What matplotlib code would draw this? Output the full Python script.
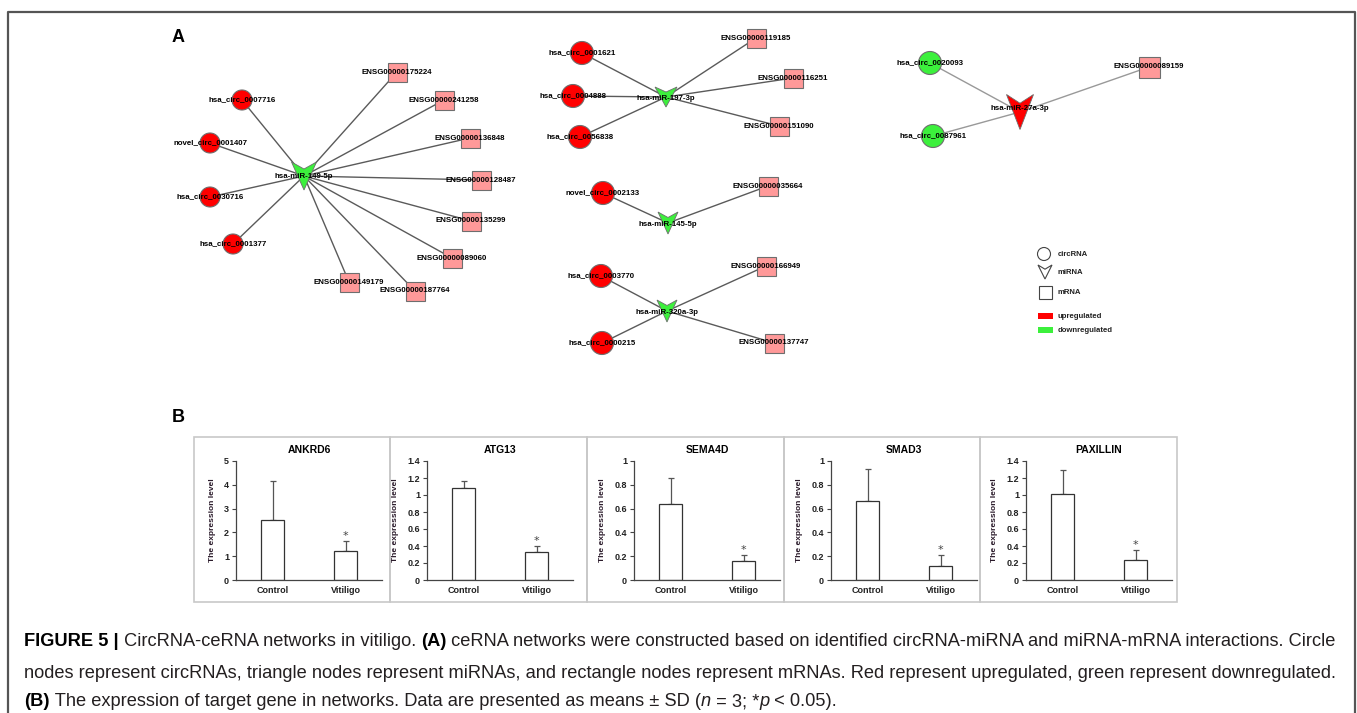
import matplotlib
matplotlib.use("Agg")
import matplotlib.pyplot as plt
from matplotlib.patches import Circle, Rectangle, Polygon
from matplotlib import font_manager

W, H = 1357, 713

# ---------------- A: networks (node layout, pixels) ----------------
mirna_names = ["hsa-miR-149-5p", "hsa-miR-197-3p", "hsa-miR-145-5p", "hsa-miR-320a-3p", "hsa-miR-27a-3p"]
mirna_xy = [(304, 176), (666, 97), (668, 223), (667, 311), (1020, 112)]
mirna_up = [False, False, False, False, True]

circ_names = ["hsa_circ_0007716", "novel_circ_0001407", "hsa_circ_0030716", "hsa_circ_0001377",
              "hsa_circ_0001621", "hsa_circ_0004888", "hsa_circ_0056838",
              "novel_circ_0002133",
              "hsa_circ_0003770", "hsa_circ_0000215",
              "hsa_circ_0020093", "hsa_circ_0087961"]
circ_xy = [(242, 100), (210, 143), (210, 197), (233, 244),
           (582, 53), (573, 96), (580, 137),
           (603, 193),
           (601, 276), (602, 343),
           (930, 63), (933, 136)]
circ_hub = [0, 0, 0, 0, 1, 1, 1, 2, 3, 3, 4, 4]
circ_up = [True] * 10 + [False, False]

mrna_names = ["ENSG00000175224", "ENSG00000241258", "ENSG00000136848", "ENSG00000128487",
              "ENSG00000135299", "ENSG00000089060", "ENSG00000187764", "ENSG00000149179",
              "ENSG00000119185", "ENSG00000116251", "ENSG00000151090",
              "ENSG00000035664",
              "ENSG00000166949", "ENSG00000137747",
              "ENSG00000089159"]
mrna_xy = [(397, 72), (444, 100), (470, 138), (481, 180), (471, 221), (452, 258), (415, 291), (349, 282),
           (756, 38), (793, 78), (779, 126),
           (768, 186),
           (766, 266), (774, 343),
           (1149, 67)]
mrna_hub = [0] * 8 + [1, 1, 1, 2, 3, 3, 4]

# ---------------- B: expression bars ----------------
genes = ["ANKRD6", "ATG13", "SEMA4D", "SMAD3", "PAXILLIN"]
groups = ["Control", "Vitiligo"]
control_mean = [2.53, 1.08, 0.64, 0.66, 1.01]
control_sd = [1.64, 0.08, 0.22, 0.27, 0.28]
vitiligo_mean = [1.20, 0.33, 0.16, 0.12, 0.24]
vitiligo_sd = [0.42, 0.07, 0.05, 0.09, 0.11]
y_max = [5, 1.4, 1, 1, 1.4]
y_step = [1, 0.2, 0.2, 0.2, 0.2]

RED = "#ff0000"
GREEN = "#3cf03c"
PINK = "#ff9999"
NODE_EDGE = "#6e6e6e"

avail = {f.name for f in font_manager.fontManager.ttflist}
SANS = ["Liberation Sans", "DejaVu Sans"]
NARROW = (["Liberation Sans Narrow"] if "Liberation Sans Narrow" in avail else []) + SANS

fig = plt.figure(figsize=(W / 100, H / 100), dpi=100)
bg = fig.add_axes([0, 0, 1, 1])
bg.set_xlim(0, W)
bg.set_ylim(H, 0)
bg.axis("off")

# outer frame
bg.plot([8, 8, 1355, 1355], [H + 5, 12, 12, H + 5], color="#555555", lw=1.6, zorder=0)

bg.text(178, 38, "A", fontsize=13, fontweight="bold", family=SANS, ha="center", va="center")
bg.text(178, 418, "B", fontsize=13, fontweight="bold", family=SANS, ha="center", va="center")

lab_kw = dict(fontsize=5.7, fontweight="bold", family=SANS, ha="center", va="center", zorder=5)

# edges
for names, xys, hubs in [(circ_names, circ_xy, circ_hub), (mrna_names, mrna_xy, mrna_hub)]:
    for xy, h in zip(xys, hubs):
        hx, hy = mirna_xy[h]
        col = "#999999" if h == 4 else "#5a5a5a"
        bg.plot([xy[0], hx], [xy[1], hy], color=col, lw=1.0, zorder=1)

# circRNA nodes
for name, xy, h, up in zip(circ_names, circ_xy, circ_hub, circ_up):
    r = 10 if h == 0 else 11.5
    bg.add_patch(Circle(xy, r, facecolor=RED if up else GREEN, edgecolor=NODE_EDGE, lw=0.8, zorder=2))
    bg.text(xy[0], xy[1], name, **lab_kw)

# mRNA nodes
for name, xy, h in zip(mrna_names, mrna_xy, mrna_hub):
    s = 21 if h == 4 else 19
    bg.add_patch(Rectangle((xy[0] - s / 2, xy[1] - s / 2), s, s, facecolor=PINK,
                           edgecolor=NODE_EDGE, lw=0.8, zorder=2))
    bg.text(xy[0], xy[1], name, **lab_kw)

# miRNA nodes (V shaped)
tri_size = [(25, 28), (22, 20), (20, 22), (20, 22), (27, 35)]
for name, (x, y), up, (w, h) in zip(mirna_names, mirna_xy, mirna_up, tri_size):
    pts = [(x - w / 2, y - h / 2), (x, y - h / 2 + h * 0.25), (x + w / 2, y - h / 2), (x, y + h / 2)]
    bg.add_patch(Polygon(pts, closed=True, facecolor=RED if up else GREEN,
                         edgecolor=NODE_EDGE, lw=0.6, zorder=3))
    bg.text(x, y + (-4 if up else 1), name, **lab_kw)

# legend
leg_kw = dict(fontsize=5.6, fontweight="bold", family=SANS, ha="left", va="center", color="#222222")
bg.add_patch(Circle((1044, 254), 6.5, facecolor="white", edgecolor="#444444", lw=0.8))
bg.text(1058, 254, "circRNA", **leg_kw)
lx, ly, lw_, lh = 1045, 272, 14, 14
bg.add_patch(Polygon([(lx - lw_ / 2, ly - lh / 2), (lx, ly - lh / 2 + lh * 0.3), (lx + lw_ / 2, ly - lh / 2),
                      (lx, ly + lh / 2)], closed=True, facecolor="white", edgecolor="#444444", lw=0.8))
bg.text(1058, 273, "miRNA", **leg_kw)
bg.add_patch(Rectangle((1039, 286), 13, 13, facecolor="white", edgecolor="#444444", lw=0.8))
bg.text(1058, 292, "mRNA", **leg_kw)
bg.add_patch(Rectangle((1038, 313), 15, 6, facecolor=RED, edgecolor="none"))
bg.text(1058, 316, "upregulated", **leg_kw)
bg.add_patch(Rectangle((1038, 327), 15, 6, facecolor=GREEN, edgecolor="none"))
bg.text(1058, 330, "downregulated", **leg_kw)

# ---------------- B panels ----------------
box_left = [194, 390, 587, 784, 980]
box_right = [390, 587, 784, 980, 1177]
axis_left = [236, 427, 634, 831, 1026]
axis_width = 146
for i in range(5):
    bg.add_patch(Rectangle((box_left[i], 437), box_right[i] - box_left[i], 165,
                           facecolor="none", edgecolor="#c8c8c8", lw=1.2, zorder=0))
    ax = fig.add_axes([axis_left[i] / W, 1 - 580 / H, axis_width / W, (580 - 461) / H])
    ax.patch.set_alpha(0)
    means = [control_mean[i], vitiligo_mean[i]]
    sds = [control_sd[i], vitiligo_sd[i]]
    ax.errorbar([0, 1], means, yerr=[[0, 0], sds], fmt="none", ecolor="#555555",
                elinewidth=0.9, capsize=2.5, capthick=0.9, zorder=1)
    ax.bar([0, 1], means, width=0.32, color="white", edgecolor="#333333", lw=0.9, zorder=2)
    ax.text(1, means[1] + sds[1], "*", ha="center", va="bottom", fontsize=8, color="#444444")
    ax.set_xlim(-0.5, 1.5)
    ax.set_ylim(0, y_max[i])
    n = int(round(y_max[i] / y_step[i]))
    ticks = [k * y_step[i] for k in range(n + 1)]
    ax.set_yticks(ticks)
    ax.set_yticklabels([f"{t:g}" for t in ticks])
    ax.set_xticks([0, 1])
    ax.set_xticklabels(groups)
    for s in ["top", "right"]:
        ax.spines[s].set_visible(False)
    for s in ["left", "bottom"]:
        ax.spines[s].set_color("#444444")
        ax.spines[s].set_linewidth(0.9)
    ax.tick_params(axis="y", length=3, width=0.8, color="#444444", labelsize=6.5, pad=2)
    ax.tick_params(axis="x", length=0, labelsize=6.5, pad=4)
    for t in ax.get_xticklabels() + ax.get_yticklabels():
        t.set_fontweight("bold")
        t.set_family(SANS)
        t.set_color("#222222")
    ax.set_title(genes[i], fontsize=7.5, fontweight="bold", family=SANS, pad=6)
    ax.set_ylabel("The expression level", fontsize=6, fontweight="bold", family=SANS,
                  color="#2a1a2a", labelpad=6)

# ---------------- caption ----------------
renderer = fig.canvas.get_renderer()
line1 = [("FIGURE 5 |", "bold", "normal"), (" CircRNA-ceRNA networks in vitiligo. ", "normal", "normal"),
         ("(A)", "bold", "normal"),
         (" ceRNA networks were constructed based on identified circRNA-miRNA and miRNA-mRNA interactions. Circle",
          "normal", "normal")]
line2 = [("nodes represent circRNAs, triangle nodes represent miRNAs, and rectangle nodes represent mRNAs. "
          "Red represent upregulated, green represent downregulated.", "normal", "normal")]
line3 = [("(B)", "bold", "normal"),
         (" The expression of target gene in networks. Data are presented as means \u00b1 SD (", "normal", "normal"),
         ("n", "normal", "italic"), (" = 3; *", "normal", "normal"), ("p", "normal", "italic"),
         (" < 0.05).", "normal", "normal")]

probe = bg.text(0, 0, line2[0][0], fontsize=12, family=NARROW)
pw = probe.get_window_extent(renderer).width
probe.remove()
cap_fs = 12 * 1314 / pw


def draw_runs(x, y, runs):
    for s, wgt, sty in runs:
        t = bg.text(x, y, s, fontsize=cap_fs, fontweight=wgt, style=sty, family=NARROW,
                    color="#000000" if wgt == "bold" else "#231f20", ha="left", va="center")
        x += t.get_window_extent(renderer).width


draw_runs(24, 641, line1)
draw_runs(24, 673, line2)
draw_runs(24, 702, line3)

fig.savefig("out.png", dpi=100)
